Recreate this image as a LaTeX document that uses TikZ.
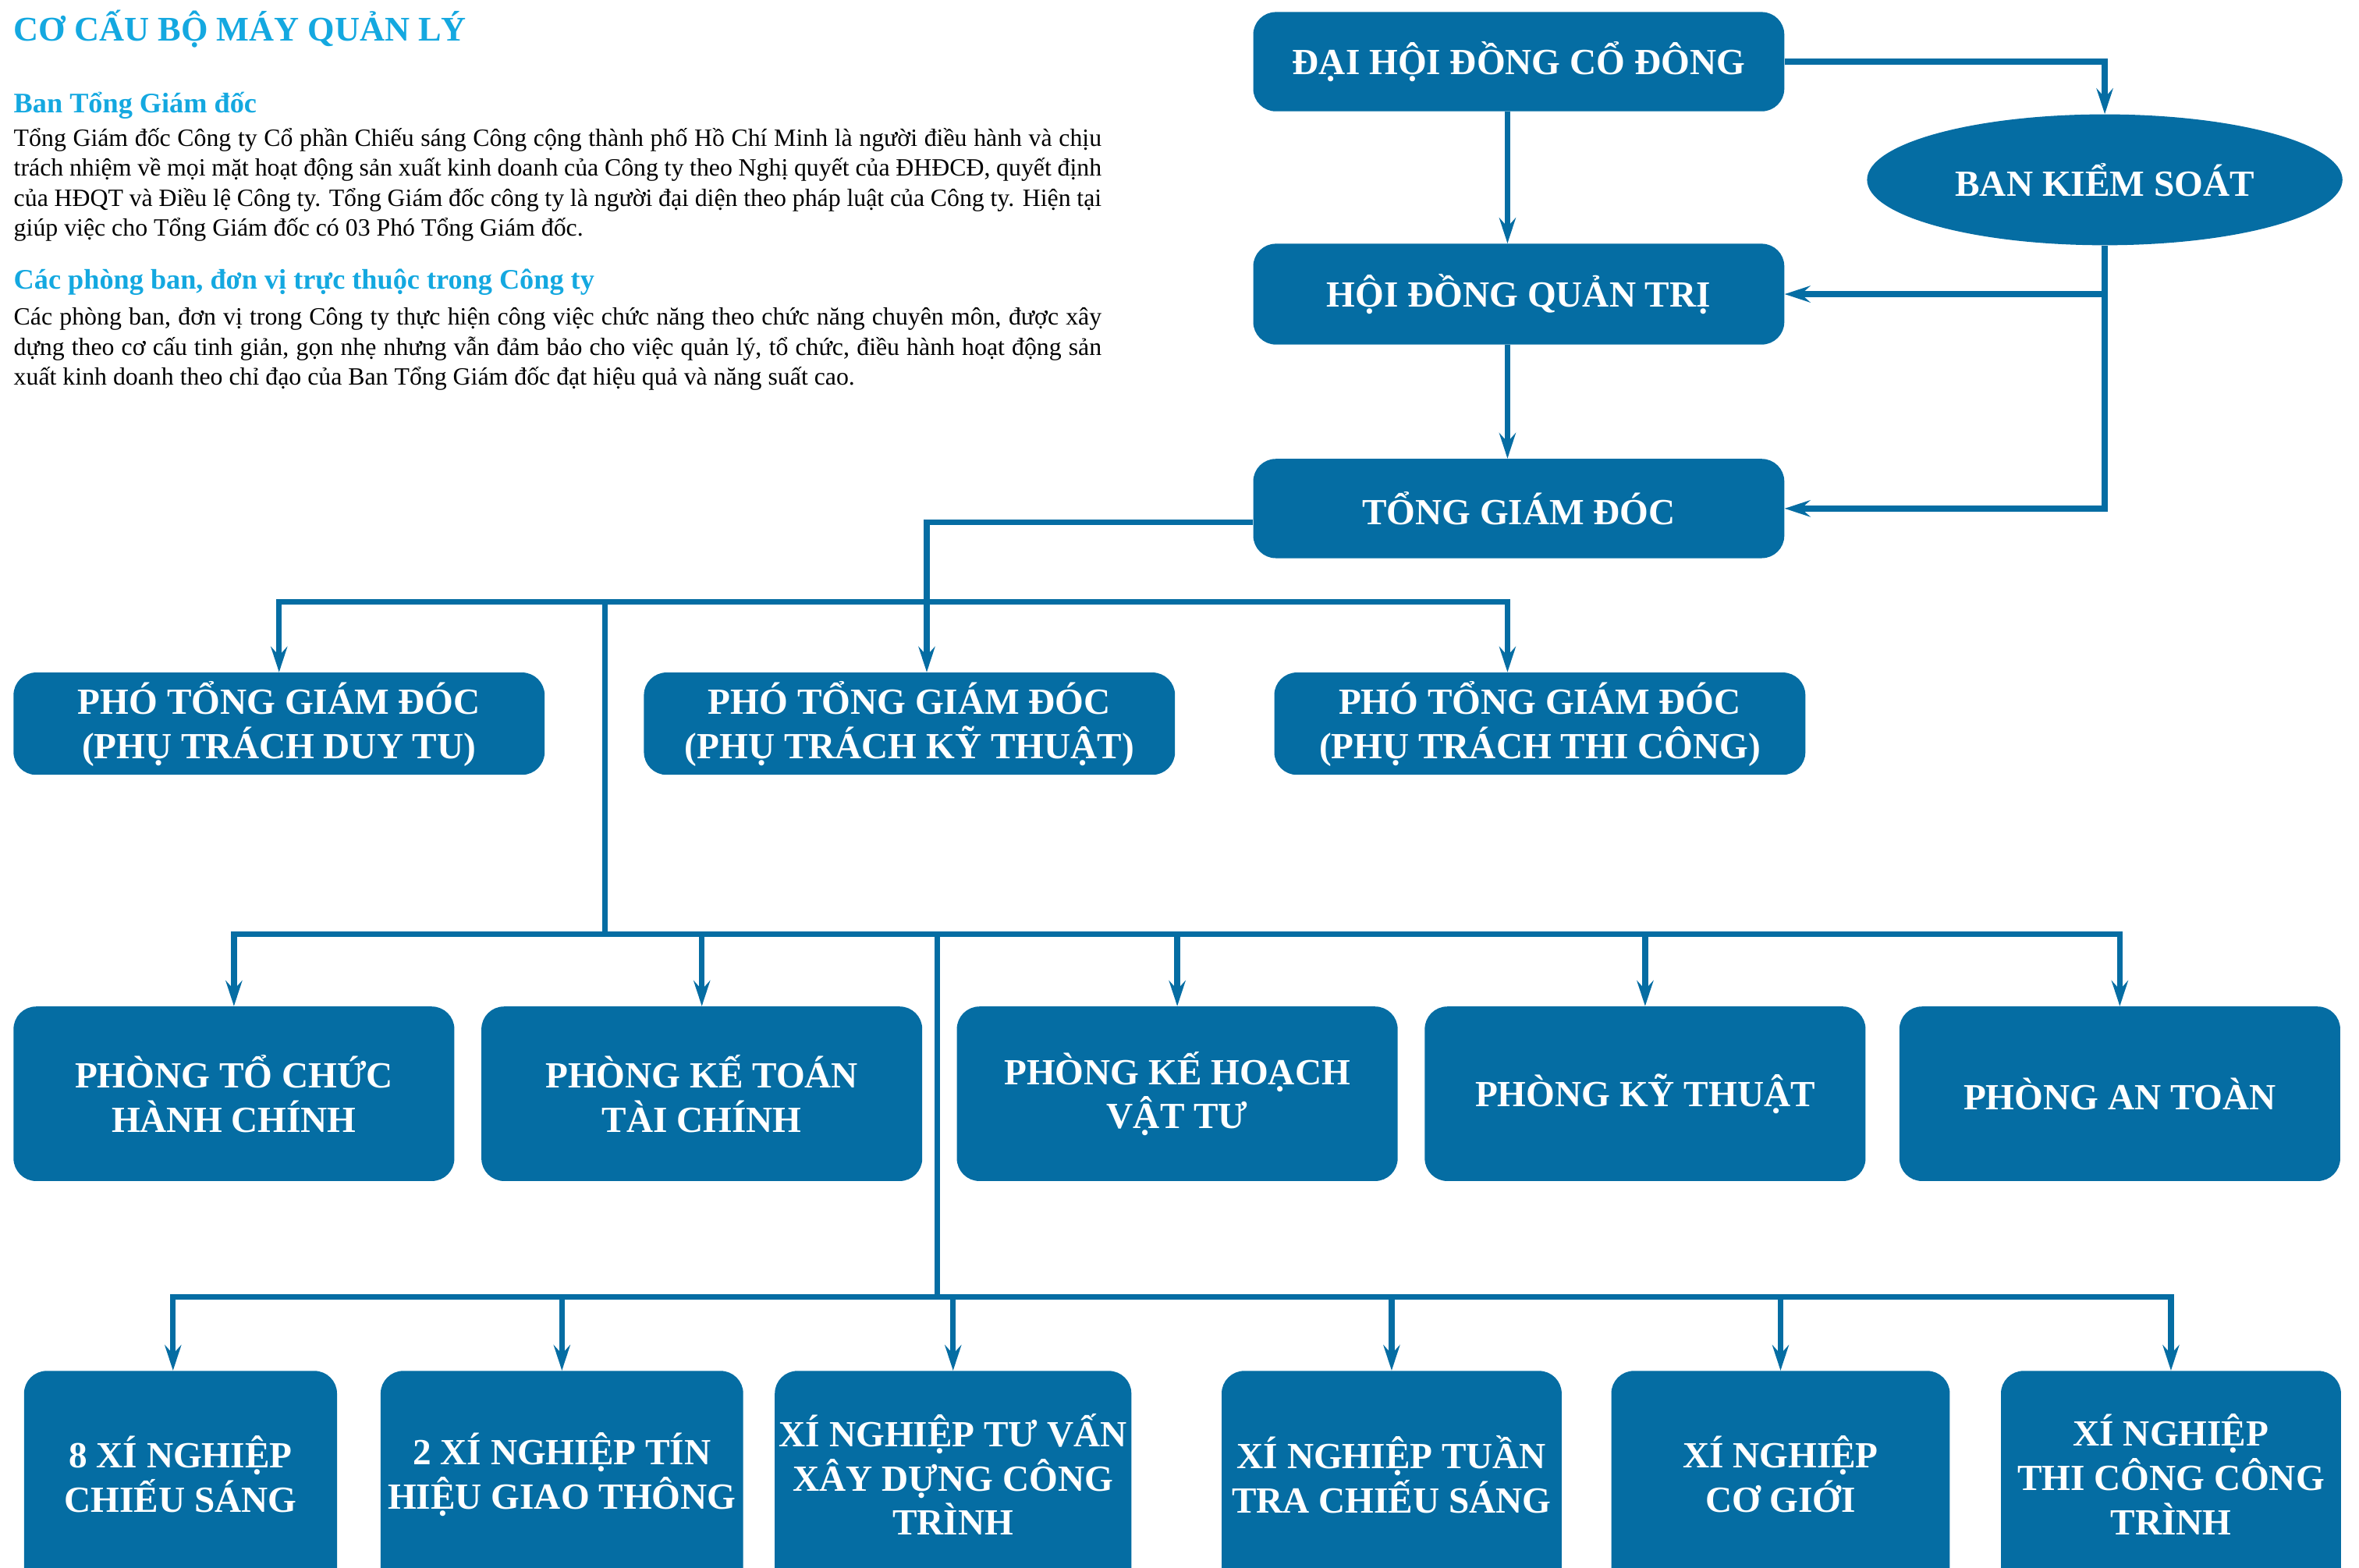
\documentclass[tikz,border=0pt]{standalone}
\usepackage{fontspec}
\setmainfont{Liberation Serif}
\newfontfamily\boxfont{Liberation Serif}
\usetikzlibrary{arrows.meta,shapes.geometric,calc}
\definecolor{boxblue}{RGB}{5,109,163}
\definecolor{headcyan}{RGB}{20,168,224}
\begin{document}
\begin{tikzpicture}[x=1pt,y=-1pt,
  orgbox/.style={fill=boxblue, rounded corners=15pt, text=white,
    font=\boxfont\bfseries\fontsize{24.5}{29.5}\selectfont, align=center, inner sep=0pt},
  ovalbox/.style={ellipse, fill=boxblue, text=white,
    font=\boxfont\bfseries\fontsize{24.5}{29.5}\selectfont, inner sep=0pt},
  boxtext/.style={text=white, font=\boxfont\bfseries\fontsize{24.5}{29.5}\selectfont, align=center, inner sep=0pt},
  link/.style={draw=boxblue, line width=3.8pt},
  arr/.style={link, -{Stealth[length=17pt,width=11pt,inset=6pt]}},
  body/.style={anchor=base west, inner sep=0pt, font=\fontsize{16.5}{20}\selectfont},
  head/.style={anchor=base west, inner sep=0pt, text=headcyan, font=\bfseries\fontsize{18.8}{22}\selectfont}
]
\useasboundingbox (0,0) rectangle (1568,1042);
\clip (0,0) rectangle (1568,1042);

% ---------- left text ----------
\node[head, font=\bfseries\fontsize{23}{27}\selectfont] (title) at (9,27) {CƠ CẤU BỘ MÁY QUẢN LÝ};
\node[head] (h1) at (9,75) {Ban Tổng Giám đốc};
\node[body] (p1a) at (9,97) {\makebox[723pt][s]{Tổng Giám đốc Công ty Cổ phần Chiếu sáng Công cộng thành phố Hồ Chí Minh là người điều hành và chịu}};
\node[body] (p1b) at (9,117) {\makebox[723pt][s]{trách nhiệm về mọi mặt hoạt động sản xuất kinh doanh của Công ty theo Nghị quyết của ĐHĐCĐ, quyết định}};
\node[body] (p1c) at (9,137) {\makebox[723pt][s]{của HĐQT và Điều lệ Công ty. Tổng Giám đốc công ty là người đại diện theo pháp luật của Công ty. Hiện tại}};
\node[body] (p1d) at (9,157) {giúp việc cho Tổng Giám đốc có 03 Phó Tổng Giám đốc.};
\node[head] (h2) at (9,192) {Các phòng ban, đơn vị trực thuộc trong Công ty};
\node[body] (p2a) at (9,216) {\makebox[723pt][s]{Các phòng ban, đơn vị trong Công ty thực hiện công việc chức năng theo chức năng chuyên môn, được xây}};
\node[body] (p2b) at (9,236) {\makebox[723pt][s]{dựng theo cơ cấu tinh giản, gọn nhẹ nhưng vẫn đảm bảo cho việc quản lý, tổ chức, điều hành hoạt động sản}};
\node[body] (p2c) at (9,256) {xuất kinh doanh theo chỉ đạo của Ban Tổng Giám đốc đạt hiệu quả và năng suất cao.};

% ---------- top boxes ----------
\node[orgbox, minimum width=353pt, minimum height=66pt] (dh) at (1009.5,41) {ĐẠI HỘI ĐỒNG CỔ ĐÔNG};
\node[ovalbox, minimum width=316pt, minimum height=87pt] (bks) at (1399,119.5) {BAN KIỂM SOÁT};
\node[orgbox, minimum width=353pt, minimum height=67pt] (hq) at (1009.5,195.5) {HỘI ĐỒNG QUẢN TRỊ};
\node[orgbox, minimum width=353pt, minimum height=66pt] (tgd) at (1009.5,338) {TỔNG GIÁM ĐÓC};

% ---------- deputies ----------
\node[orgbox, minimum width=353pt, minimum height=68pt] (ptdt) at (185.5,481) {PHÓ TỔNG GIÁM ĐÓC\\(PHỤ TRÁCH DUY TU)};
\node[orgbox, minimum width=353pt, minimum height=68pt] (ptkt) at (604.5,481) {PHÓ TỔNG GIÁM ĐÓC\\(PHỤ TRÁCH KỸ THUẬT)};
\node[orgbox, minimum width=353pt, minimum height=68pt] (pttc) at (1023.5,481) {PHÓ TỔNG GIÁM ĐÓC\\(PHỤ TRÁCH THI CÔNG)};

% ---------- departments ----------
\node[orgbox, minimum width=293pt, minimum height=116pt] (ph1) at (155.5,727) {PHÒNG TỔ CHỨC\\HÀNH CHÍNH};
\node[orgbox, minimum width=293pt, minimum height=116pt] (ph2) at (466.5,727) {PHÒNG KẾ TOÁN\\TÀI CHÍNH};
\node[orgbox, minimum width=293pt, minimum height=116pt] (ph3) at (782.5,727) {PHÒNG KẾ HOẠCH\\VẬT TƯ};
\node[orgbox, minimum width=293pt, minimum height=116pt] (ph4) at (1093.5,727) {PHÒNG KỸ THUẬT};
\node[orgbox, minimum width=293pt, minimum height=116pt] (ph5) at (1409,727) {PHÒNG AN TOÀN};

% ---------- enterprises ----------
\node[orgbox, minimum width=208pt, minimum height=170pt, anchor=north] (x1) at (120,911) {};
\node[orgbox, minimum width=241pt, minimum height=170pt, anchor=north] (x2) at (373.5,911) {};
\node[orgbox, minimum width=237pt, minimum height=170pt, anchor=north] (x3) at (633.5,911) {};
\node[orgbox, minimum width=226pt, minimum height=170pt, anchor=north] (x4) at (925,911) {};
\node[orgbox, minimum width=225pt, minimum height=170pt, anchor=north] (x5) at (1183.5,911) {};
\node[orgbox, minimum width=226pt, minimum height=170pt, anchor=north] (x6) at (1443,911) {};
\node[boxtext] (x1t) at (120,980) {8 XÍ NGHIỆP\\CHIẾU SÁNG};
\node[boxtext] (x2t) at (373.5,980) {2 XÍ NGHIỆP TÍN\\HIỆU GIAO THÔNG};
\node[boxtext] (x3t) at (633.5,980) {XÍ NGHIỆP TƯ VẤN\\XÂY DỰNG CÔNG\\TRÌNH};
\node[boxtext] (x4t) at (925,980) {XÍ NGHIỆP TUẦN\\TRA CHIẾU SÁNG};
\node[boxtext] (x5t) at (1183.5,980) {XÍ NGHIỆP\\CƠ GIỚI};
\node[boxtext] (x6t) at (1443,980) {XÍ NGHIỆP\\THI CÔNG CÔNG\\TRÌNH};

% ---------- helper coordinates ----------
\coordinate (sp) at (1002,0);
\coordinate (kx) at (616,0);
\coordinate (v1) at (402,0);
\coordinate (v2) at (623,0);
\coordinate (x1x) at (115,0);
\coordinate (b1) at (0,400);
\coordinate (b2) at (0,621);
\coordinate (b3) at (0,862);
\coordinate (tl) at ($(tgd.west)+(0,9)$);

% ---------- connectors ----------
\draw[arr] (dh.east) -| (bks.north);
\draw[arr] (dh.south -| sp) -- (hq.north -| sp);
\draw[arr] (hq.south -| sp) -- (tgd.north -| sp);
\draw[arr] (bks.south) |- (tgd.east);
\draw[arr] (bks.south |- hq.east) -- (hq.east);

\draw[arr] (tl) -| (ptkt.north -| kx);
\draw[arr] (v1 |- b1) -| (ptdt.north);
\draw[arr] (v1 |- b1) -| (pttc.north -| sp);
\draw[link] (v1 |- b1) -- (v1 |- b2);

\draw[arr] (v2 |- b2) -| (ph1.north);
\draw[arr] (v2 |- b2) -| (ph5.north);
\draw[arr] (ph2.north |- b2) -- (ph2.north);
\draw[arr] (ph3.north |- b2) -- (ph3.north);
\draw[arr] (ph4.north |- b2) -- (ph4.north);
\draw[link] (v2 |- b2) -- (v2 |- b3);

\draw[arr] (v2 |- b3) -| (x1.north -| x1x);
\draw[arr] (v2 |- b3) -| (x6.north);
\draw[arr] (x2.north |- b3) -- (x2.north);
\draw[arr] (x3.north |- b3) -- (x3.north);
\draw[arr] (x4.north |- b3) -- (x4.north);
\draw[arr] (x5.north |- b3) -- (x5.north);
\end{tikzpicture}
\end{document}
